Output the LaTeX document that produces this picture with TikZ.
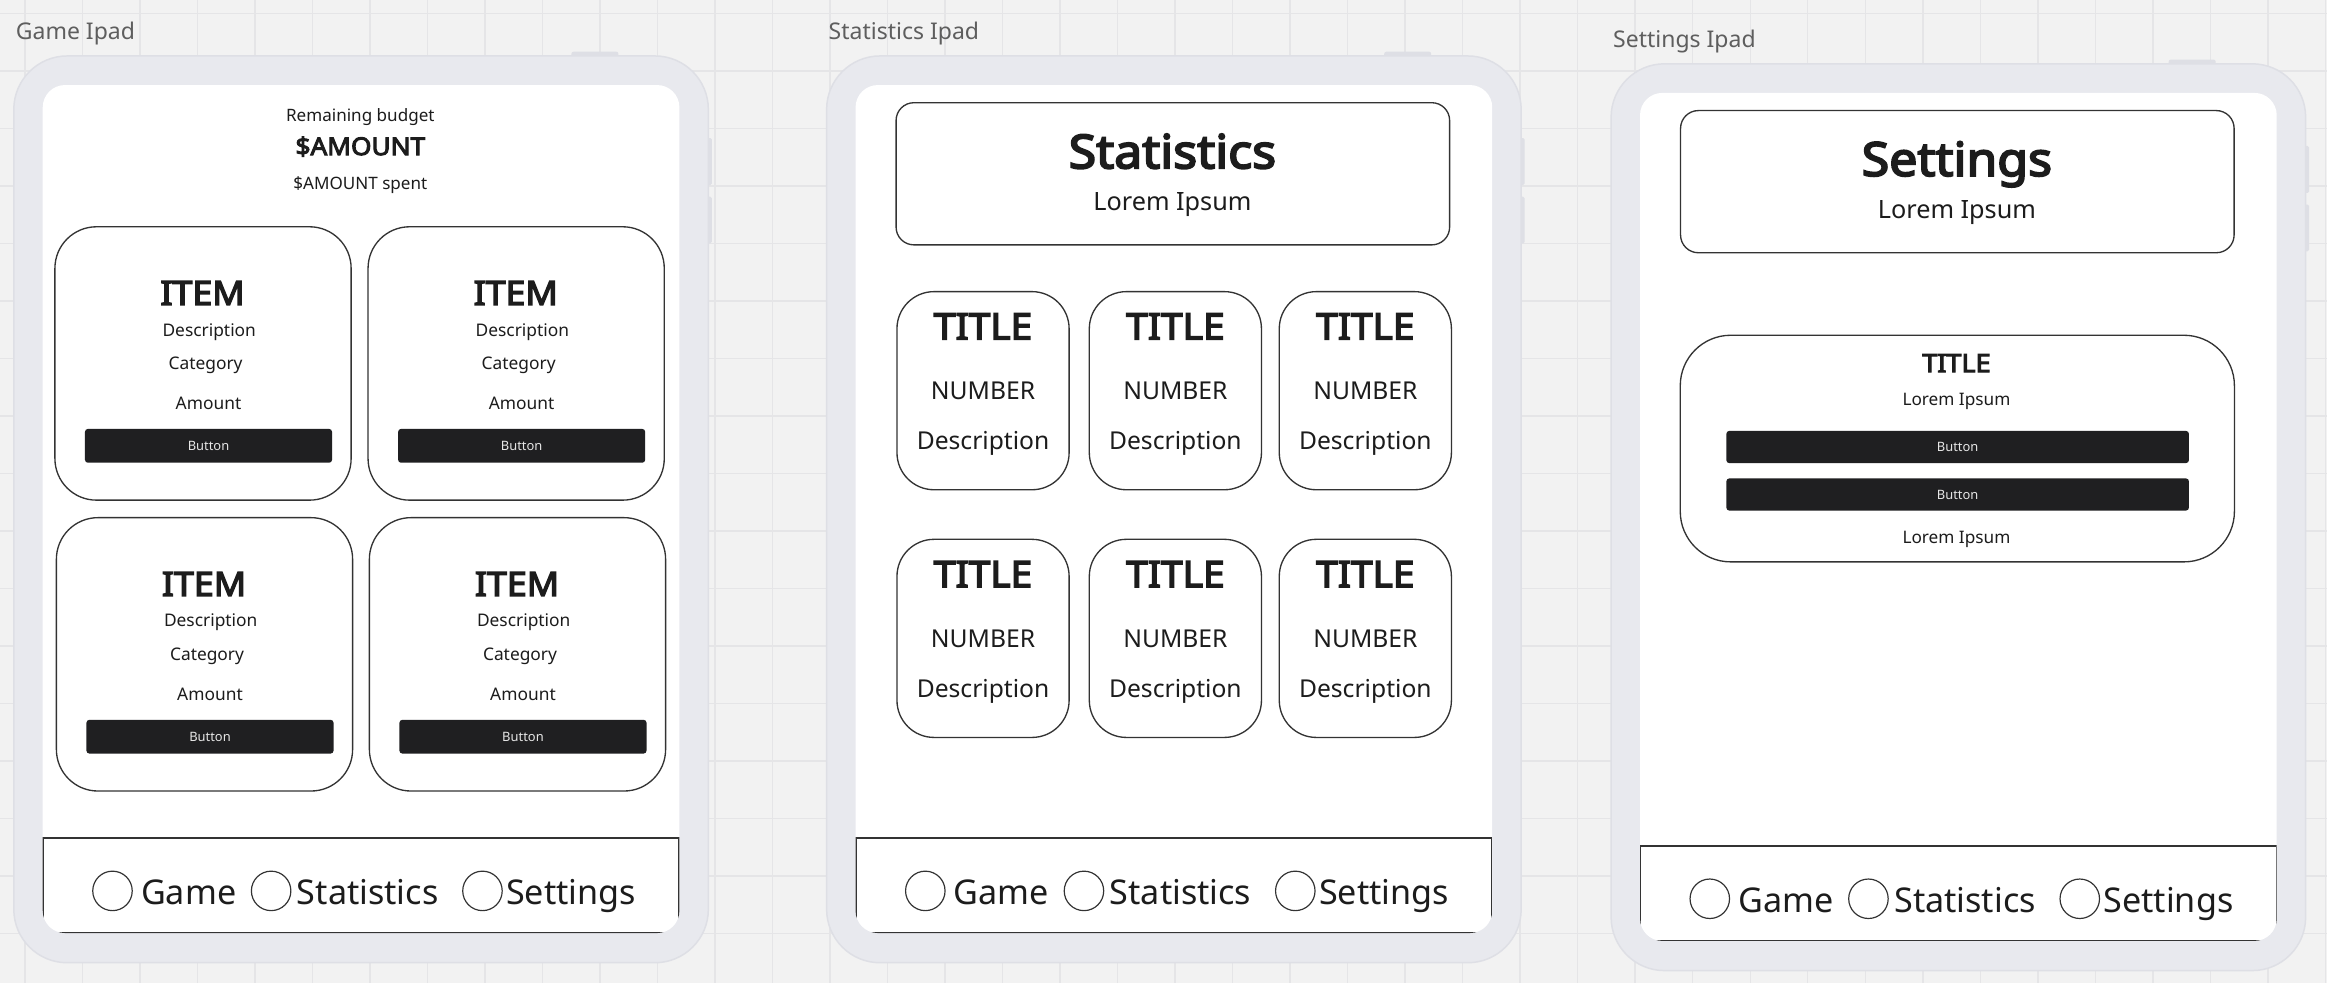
\documentclass[tikz,border=0pt]{standalone}
\usepackage{fontspec}
\setmainfont{Noto Sans}
\newfontfamily\headfont{Noto Sans}[FakeBold=4, FakeStretch=1.07]

\definecolor{canvas}{HTML}{F2F2F2}
\definecolor{gridline}{HTML}{E5E5E7}
\definecolor{bezel}{HTML}{E8E9EE}
\definecolor{bezeledge}{HTML}{DEDFE5}
\definecolor{ink}{HTML}{1C1C1C}
\definecolor{btnfill}{HTML}{1F1F21}
\definecolor{btntext}{HTML}{E6E6E6}
\definecolor{labelgray}{HTML}{5E5E5E}
\definecolor{outline}{HTML}{333333}

\tikzset{
  fs/.style={font=\fontsize{#1}{#1}\selectfont},
  bfs/.style={font=\headfont\fontsize{#1}{#1}\selectfont},
  txt/.style={inner sep=0pt, anchor=base, text=ink},
  cardline/.style={draw=outline, line width=0.9pt},
  button/.style={fill=btnfill, rounded corners=2pt, inner sep=0pt,
    text=btntext, fs=8.7},
}

\begin{document}
\begin{tikzpicture}[x=1pt, y=-1pt]

\useasboundingbox (0,0) rectangle (1568,662.4);
\fill[canvas] (0,0) rectangle (1568,662.4);

% background grid
\foreach \k in {0,...,40}
  \draw[gridline, line width=1pt] ({16.85+38.75*\k},0) -- ({16.85+38.75*\k},662.4);
\foreach \k in {0,...,16}
  \draw[gridline, line width=1pt] (0,{8.96+38.75*\k}) -- (1568,{8.96+38.75*\k});

% the three ipads
\foreach \dx/\dy/\n/\lbl in {9.3/37.7/game/Game Ipad, 557/37.7/stats/Statistics Ipad, 1085.6/43/set/Settings Ipad} {
  \begin{scope}[shift={(\dx,\dy)}]
    \node[txt, anchor=base west, text=labelgray, fs=15.5] (\n-label) at (1.2,-11) {\lbl};

    \fill[bezeledge, rounded corners=1.5pt] (375.7,-2.9) rectangle (407.4,2);
    \fill[bezeledge, rounded corners=1pt] (466,55.3) rectangle (470.3,87);
    \fill[bezeledge, rounded corners=1pt] (466,94.8) rectangle (470.3,126.3);
    \draw[bezeledge, fill=bezel, line width=1pt, rounded corners=36pt] (0,0) rectangle (468,611);
    \fill[white, rounded corners=15pt] (19.5,19.6) rectangle (448.5,591);

    % tab bar
    \begin{scope}
      \clip[rounded corners=15pt] (19.5,19.6) rectangle (448.5,591);
      \draw[outline, line width=1.3pt] (19.5,527.1) rectangle (448.5,591);
    \end{scope}
    \draw[outline, line width=0.8pt] (66.5,562.6) circle[radius=13.3];
    \draw[outline, line width=0.8pt] (173.4,562.6) circle[radius=13.3];
    \draw[outline, line width=0.8pt] (315.8,562.6) circle[radius=13.3];
    \node[txt, anchor=base west, fs=23] (\n-tabgame) at (85.6,572.1) {Game};
    \node[txt, anchor=base west, fs=23] (\n-tabstats) at (190.6,572.1) {Statistics};
    \node[txt, anchor=base west, fs=23] (\n-tabset) at (331.6,572.1) {Settings};
  \end{scope}
}

% game screen
\begin{scope}[shift={(9.3,37.7)}]
  \node[txt, fs=11.5] (budget) at (233.5,44.3) {Remaining budget};
  \node[txt, bfs=16.5] (amount) at (233.5,66.8) {\$AMOUNT};
  \node[txt, fs=11.5] (spent) at (233.5,89.9) {\$AMOUNT spent};

  \foreach \cx/\cy/\k in {27.7/115.1/1, 238.7/115.1/2, 28.7/311.1/3, 239.6/311.1/4} {
    \begin{scope}[shift={(\cx,\cy)}]
      \draw[cardline, rounded corners=28pt] (0,0) rectangle (199.6,184.2);
      \node[txt, bfs=22.5] (item\k) at (99.5,52.7) {ITEM};
      \node[txt, fs=11.7] (desc\k) at (104,73.6) {Description};
      \node[txt, fs=11.7] (cat\k) at (101.5,96.5) {Category};
      \node[txt, fs=11.7] (amt\k) at (103.5,123) {Amount};
      \node[button, minimum width=166.5pt, minimum height=22.8pt] (buy\k) at (103.5,147.6) {Button};
    \end{scope}
  }
\end{scope}

% statistics screen
\begin{scope}[shift={(557,37.7)}]
  \draw[cardline, rounded corners=12pt] (46.8,31.5) rectangle (419.8,127.3);
  \node[txt, bfs=31.5] (stathead) at (233,75.7) {Statistics};
  \node[txt, fs=17] (statsub) at (233,104.3) {Lorem Ipsum};

  \foreach \cx/\c in {47.4/1, 177/2, 305/3}
    \foreach \cy/\r in {158.8/1, 325.7/2} {
      \draw[cardline, rounded corners=25pt] (\cx,\cy) rectangle ++(116,133.5);
      \node[txt, bfs=24.5] (title\r\c) at ({\cx+58},{\cy+32.2}) {TITLE};
      \node[txt, fs=16.6] (number\r\c) at ({\cx+58},{\cy+73}) {NUMBER};
      \node[txt, fs=16.6] (statdesc\r\c) at ({\cx+58},{\cy+106.5}) {Description};
    }
\end{scope}

% settings screen
\begin{scope}[shift={(1085.6,43)}]
  \draw[cardline, rounded corners=12pt] (46.8,31.5) rectangle (419.8,127.3);
  \node[txt, bfs=31.5] (sethead) at (233,75.5) {Settings};
  \node[txt, fs=17] (setsub) at (233,104.3) {Lorem Ipsum};

  \draw[cardline, rounded corners=34pt] (46.6,182.9) rectangle (420,335.6);
  \node[txt, bfs=17] (settitle) at (232.7,207.8) {TITLE};
  \node[txt, fs=11.6] (setlorem) at (232.7,230.3) {Lorem Ipsum};
  \node[button, minimum width=311.7pt, minimum height=21.7pt] (setbtn1) at (233.5,258.2) {Button};
  \node[button, minimum width=311.7pt, minimum height=21.7pt] (setbtn2) at (233.5,290.2) {Button};
  \node[txt, fs=11.6] (setfoot) at (232.7,323.1) {Lorem Ipsum};
\end{scope}

\end{tikzpicture}
\end{document}
